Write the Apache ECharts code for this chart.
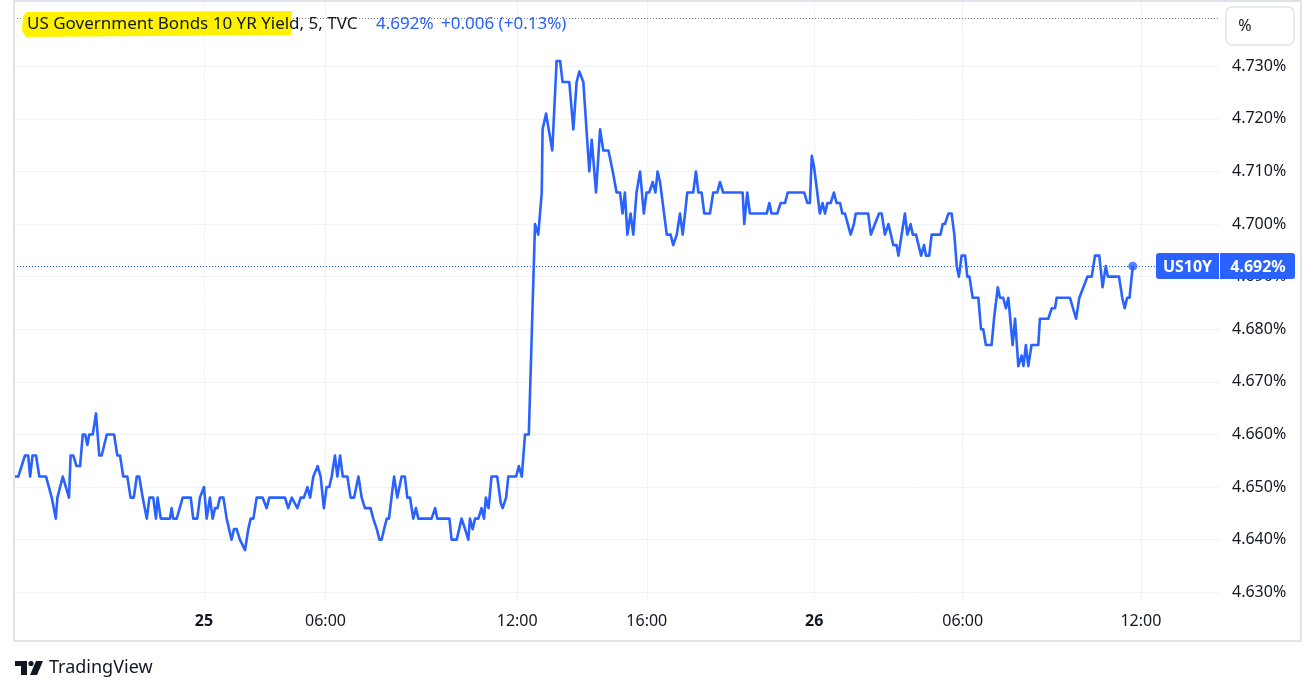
<!DOCTYPE html>
<html><head><meta charset="utf-8">
<script src="https://cdn.jsdelivr.net/npm/echarts@6/dist/echarts.min.js"></script>
<style>html,body{margin:0;padding:0;background:#fff;overflow:hidden}#c{width:1315px;height:694px}</style>
</head><body><div id="c"></div>
<script>
// 5-minute bar index (x) and yield in % (y)
const bars = [0,1.2,3.7,4.9,5.6,6.5,7.8,9.0,11.5,13.6,15.1,15.7,17.7,20.0,20.6,21.6,22.8,24.1,25.1,26.0,26.8,27.5,28.8,30.0,31.2,32.1,34.0,36.7,37.9,38.9,40.1,41.6,42.8,44.0,45.1,46.0,47.3,48.8,49.8,51.2,52.2,52.8,54.0,57.4,58.0,58.6,59.9,62.1,65.1,66.0,67.5,68.5,70.0,71.0,72.2,
73.2,74.1,75.0,75.9,77.2,78.4,79.0,80.2,81.1,82.1,83.3,84.0,85.2,86.4,87.3,88.3,89.5,91.7,93.2,94.2,100.0,101.2,102.5,103.1,104.6,105.8,107.0,108.3,109.3,110.5,111.1,112.1,113.2,114.4,115.4,116.4,117.3,118.5,119.4,120.4,121.4,123.1,124.3,125.6,127.2,128.4,129.6,131.7,132.7,134.0,135.0,135.8,136.7,137.7,138.5,140.4,141.6,143.2,144.4,145.3,146.3,
147.5,148.5,149.4,154.3,155.6,156.4,160.9,161.7,163.6,165.4,166.7,167.9,168.5,169.5,170.4,171.6,172.8,173.7,174.4,175.4,176.5,178.6,179.9,180.6,181.9,182.7,185.6,186.6,187.7,188.9,190.3,
192.6,193.8,195.1,195.4,196.7,199.0,200.6,201.9,202.8,205.3,206.8,208.0,209.0,210.5,212.7,213.6,215.2,216.7,217.9,219.8,
221.4,221.9,222.8,224.1,225.0,225.9,226.8,228.0,229.0,230.2,231.5,232.9,233.9,234.9,236.2,237.2,238.0,238.9,241.4,242.8,243.8,245.1,246.3,247.3,249.0,251.2,252.2,253.1,254.3,255.3,257.4,258.6,260.1,261.1,262.3,269.5,270.1,271.2,272.2,278.4,279.4,280.2,282.3,283.6,285.2,286.2,292.3,293.5,294.4,
295.1,295.9,296.9,298.1,299.1,300.0,300.9,302.1,303.3,304.3,305.6,306.4,307.4,309.5,310.7,311.4,316.0,317.0,318.5,320.0,321.0,322.2,323.5,325.3,326.5,327.2,329.6,330.5,331.7,332.5,333.7,335.6,336.7,337.4,338.6,339.5,342.8,343.6,344.4,345.7,346.9,347.9,348.8,349.6,350.6,351.9,352.7,353.5,354.7,356.8,357.8,358.6,359.6,361.7,362.6,364.0,
364.8,366.0,367.0,367.9,369.5,370.4,371.6,372.8,373.5,374.4,375.3,376.5,379.0,379.6,382.7,384.0,385.2,385.8,390.7,393.0,394.2,395.7,397.2,398.8,400.0,401.6,402.8,404.0,404.8,408.9,410.1,411.0,411.9,412.8,414.0];
const yields = [4.652,4.652,4.656,4.656,4.652,4.656,4.656,4.652,4.652,4.648,4.644,4.648,4.652,4.648,4.656,4.656,4.654,4.654,4.660,4.660,4.658,4.660,4.660,4.664,4.656,4.656,4.660,4.660,4.656,4.656,4.652,4.652,4.648,4.648,4.652,4.652,4.648,4.644,4.648,4.648,4.644,4.648,4.644,4.644,4.646,4.644,4.644,4.648,4.648,4.644,4.644,4.648,4.650,4.644,4.648,
4.644,4.646,4.646,4.648,4.648,4.644,4.644,4.640,4.642,4.642,4.640,4.640,4.638,4.642,4.644,4.644,4.648,4.648,4.646,4.648,4.648,4.646,4.648,4.648,4.646,4.648,4.648,4.650,4.648,4.652,4.652,4.654,4.652,4.646,4.650,4.650,4.652,4.656,4.652,4.656,4.652,4.652,4.648,4.648,4.652,4.648,4.646,4.646,4.644,4.642,4.640,4.640,4.642,4.644,4.644,4.652,4.648,4.652,4.652,4.648,4.648,
4.644,4.646,4.644,4.644,4.646,4.644,4.644,4.640,4.640,4.644,4.642,4.640,4.644,4.642,4.644,4.644,4.646,4.644,4.648,4.646,4.652,4.652,4.647,4.646,4.648,4.652,4.652,4.654,4.652,4.660,4.660,
4.700,4.698,4.706,4.718,4.721,4.714,4.731,4.731,4.727,4.727,4.718,4.727,4.729,4.727,4.710,4.716,4.706,4.718,4.714,4.714,
4.710,4.710,4.706,4.706,4.702,4.706,4.698,4.702,4.698,4.706,4.710,4.702,4.706,4.706,4.708,4.706,4.710,4.708,4.698,4.698,4.696,4.698,4.702,4.698,4.706,4.706,4.710,4.706,4.706,4.702,4.702,4.706,4.706,4.708,4.706,4.706,4.700,4.706,4.702,4.702,4.704,4.702,4.702,4.704,4.704,4.706,4.706,4.704,4.704,
4.713,4.711,4.707,4.702,4.704,4.702,4.704,4.704,4.706,4.704,4.704,4.702,4.702,4.698,4.700,4.702,4.702,4.698,4.700,4.702,4.702,4.698,4.700,4.696,4.696,4.694,4.702,4.698,4.700,4.698,4.698,4.694,4.696,4.694,4.694,4.698,4.698,4.700,4.700,4.702,4.702,4.698,4.692,4.690,4.694,4.694,4.690,4.690,4.686,4.686,4.680,4.680,4.677,4.677,4.682,4.688,
4.686,4.686,4.684,4.686,4.677,4.682,4.673,4.675,4.673,4.677,4.673,4.677,4.677,4.682,4.682,4.684,4.684,4.686,4.686,4.682,4.686,4.688,4.690,4.690,4.694,4.694,4.688,4.692,4.690,4.690,4.686,4.684,4.686,4.686,4.692];

const tickBars = [70, 115, 186, 234, 296, 351, 417];
const tickLabels = ['25', '06:00', '12:00', '16:00', '26', '06:00', '12:00'];
const dayLabels = ['25', '26'];
const priceTicks = [4.63, 4.64, 4.65, 4.66, 4.67, 4.68, 4.69, 4.70, 4.71, 4.72, 4.73];
const refLevel = 4.7392;
const symbolName = 'US10Y';
const titleText = 'US Government Bonds 10 YR Yield, 5, TVC';
const changeText = '+0.006 (+0.13%)';

const BLUE = '#2962FF';
const TXT = '#131722';
const GRID = '#f0f3fa';
const FONT = '"Noto Sans", sans-serif';

const seriesData = bars.map((b, i) => [b, yields[i]]);
const lastPt = seriesData[seriesData.length - 1];
const lastText = lastPt[1].toFixed(3) + '%';

const chart = echarts.init(document.getElementById('c'), null, {renderer: 'canvas'});
chart.setOption({
  animation: false,
  backgroundColor: '#ffffff',
  grid: {left: 14, top: 1, width: 1206, height: 599, containLabel: false},
  xAxis: {
    type: 'value', min: -0.37, max: 446.3,
    axisLine: {show: false},
    axisTick: {show: false, customValues: tickBars},
    splitLine: {show: true, lineStyle: {color: GRID, width: 1}},
    axisLabel: {
      customValues: tickBars, margin: 13,
      formatter: v => {
        const l = tickLabels[tickBars.indexOf(v)];
        return dayLabels.includes(l) ? '{b|' + l + '}' : '{n|' + l + '}';
      },
      rich: {
        b: {fontFamily: FONT, fontSize: 16, fontWeight: 'bold', color: TXT},
        n: {fontFamily: FONT, fontSize: 16, color: TXT}
      }
    }
  },
  yAxis: {
    type: 'value', position: 'right', min: 4.62853, max: 4.74241,
    axisLine: {show: false},
    axisTick: {show: false, customValues: priceTicks},
    splitLine: {show: true, lineStyle: {color: GRID, width: 1}},
    axisLabel: {
      customValues: priceTicks, margin: 12,
      fontFamily: FONT, fontSize: 16, color: TXT,
      formatter: v => v.toFixed(3) + '%'
    }
  },
  series: [{
    type: 'line', data: seriesData, showSymbol: false, clip: true,
    lineStyle: {color: BLUE, width: 2.6, join: 'round'},
    itemStyle: {color: BLUE},
    markLine: {
      silent: true, symbol: ['none', 'none'], label: {show: false}, precision: 4,
      data: [
        {yAxis: lastPt[1], lineStyle: {color: BLUE, type: [1, 2], width: 1}},
        {yAxis: refLevel, lineStyle: {color: '#787b86', type: [1, 2], width: 1}}
      ]
    },
    z: 3
  }, {
    type: 'scatter', data: [lastPt], symbolSize: 9, itemStyle: {color: BLUE}, z: 4
  }]
});

const p = chart.convertToPixel({gridIndex: 0}, lastPt);
const ly = Math.round(p[1]);
chart.setOption({
  graphic: [
    {type: 'rect', shape: {x: 14, y: 1, width: 1287, height: 640}, style: {fill: 'none', stroke: '#e0e3eb', lineWidth: 2}, silent: true, z: 10},
    {type: 'rect', shape: {x: 1226, y: 7, width: 68, height: 38, r: 6}, style: {fill: '#fff', stroke: '#e0e3eb', lineWidth: 1.5}, z: 10},
    {type: 'text', style: {text: '%', x: 1245, y: 26, font: '16px ' + FONT, fill: TXT, textAlign: 'center', textVerticalAlign: 'middle'}, z: 11},
    {type: 'polygon', shape: {points: [[27, 12], [292, 11], [291, 35], [26, 37], [22, 31], [23, 16]]}, style: {fill: '#fff200'}, z: 10},
    {type: 'text', style: {text: titleText, x: 27, y: 24, font: '17px ' + FONT, fill: TXT, textVerticalAlign: 'middle'}, z: 11},
    {type: 'text', style: {text: lastText, x: 376, y: 24, font: '17px ' + FONT, fill: BLUE, textVerticalAlign: 'middle'}, z: 11},
    {type: 'text', style: {text: changeText, x: 441, y: 24, font: '17px ' + FONT, fill: BLUE, textVerticalAlign: 'middle'}, z: 11},
    {type: 'rect', shape: {x: 1156, y: ly - 13, width: 63, height: 26, r: [3, 0, 0, 3]}, style: {fill: BLUE}, z: 12},
    {type: 'rect', shape: {x: 1220, y: ly - 13, width: 75, height: 26, r: [0, 3, 3, 0]}, style: {fill: BLUE}, z: 12},
    {type: 'text', style: {text: symbolName, x: 1187.5, y: ly + 1, font: 'bold 16px ' + FONT, fill: '#fff', textAlign: 'center', textVerticalAlign: 'middle'}, z: 13},
    {type: 'text', style: {text: lastText, x: 1258, y: ly + 1, font: 'bold 16px ' + FONT, fill: '#fff', textAlign: 'center', textVerticalAlign: 'middle'}, z: 13},
    // TradingView logo
    {type: 'rect', shape: {x: 15, y: 661, width: 12, height: 5}, style: {fill: TXT}, z: 10},
    {type: 'rect', shape: {x: 21, y: 661, width: 6, height: 14}, style: {fill: TXT}, z: 10},
    {type: 'circle', shape: {cx: 31, cy: 663.5, r: 2.6}, style: {fill: TXT}, z: 10},
    {type: 'polygon', shape: {points: [[36, 661], [43, 661], [37, 675], [30, 675]]}, style: {fill: TXT}, z: 10},
    {type: 'text', style: {text: 'TradingView', x: 49, y: 668, font: '18px ' + FONT, fill: TXT, textVerticalAlign: 'middle'}, z: 10}
  ]
});
</script></body></html>
